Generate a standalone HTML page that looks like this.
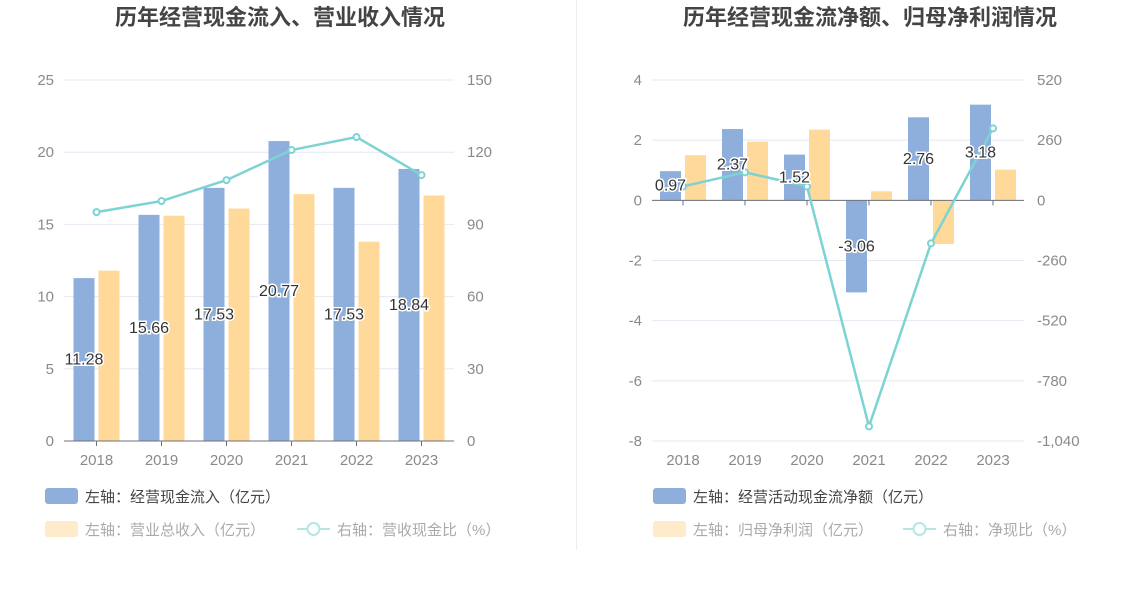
<!DOCTYPE html>
<html><head><meta charset="utf-8">
<style>
html,body{margin:0;padding:0;background:#fff;}
svg{display:block;font-family:"Liberation Sans","Noto Sans CJK SC",sans-serif;}
.lbl{font-size:16px;fill:#333;stroke:#fff;stroke-width:3px;paint-order:stroke;}
.ax{font-size:15px;fill:#8a8a8a;}
</style></head>
<body>
<svg id="c" width="1148" height="589" viewBox="0 0 1148 589">
<line x1="576.5" y1="0" x2="576.5" y2="550" stroke="#eeeeee"/>
<text x="280" y="25" text-anchor="middle" font-size="22" font-weight="bold" fill="#444">历年经营现金流入、营业收入情况</text>
<text x="870" y="25" text-anchor="middle" font-size="22" font-weight="bold" fill="#444">历年经营现金流净额、归母净利润情况</text>
<g id="L"></g><g id="R"></g>
<g>
<rect x="45" y="488" width="33" height="16" rx="3" fill="#8eaedb"/>
<text x="85" y="502" font-size="15" fill="#444">左轴：经营现金流入（亿元）</text>
<rect x="45" y="521" width="33" height="16" rx="3" fill="#fdebcb"/>
<text x="85" y="535" font-size="15" fill="#aaa">左轴：营业总收入（亿元）</text>
<line x1="297" y1="529" x2="330" y2="529" stroke="#b5e5e5" stroke-width="2"/>
<circle cx="313.5" cy="529" r="6" fill="#fff" stroke="#b5e5e5" stroke-width="2"/>
<text x="337" y="535" font-size="15" fill="#aaa">右轴：营收现金比（%）</text>
</g>
<g>
<rect x="653" y="488" width="33" height="16" rx="3" fill="#8eaedb"/>
<text x="693" y="502" font-size="15" fill="#444">左轴：经营活动现金流净额（亿元）</text>
<rect x="653" y="521" width="33" height="16" rx="3" fill="#fdebcb"/>
<text x="693" y="535" font-size="15" fill="#aaa">左轴：归母净利润（亿元）</text>
<line x1="903" y1="529" x2="936" y2="529" stroke="#b5e5e5" stroke-width="2"/>
<circle cx="919.5" cy="529" r="6" fill="#fff" stroke="#b5e5e5" stroke-width="2"/>
<text x="943" y="535" font-size="15" fill="#aaa">右轴：净现比（%）</text>
</g>
</svg>
<script>
const years = ["2018","2019","2020","2021","2022","2023"];
const inflow = [11.28,15.66,17.53,20.77,17.53,18.84];
const revenue = [11.8,15.6,16.1,17.1,13.8,17.0];
const cashRatio = [95.1,99.7,108.4,120.9,126.3,110.5];
const leftTicks = [0,5,10,15,20,25];
const leftRTicks = ["0","30","60","90","120","150"];
const netCash = [0.97,2.37,1.52,-3.06,2.76,3.18];
const netProfit = [1.5,1.95,2.35,0.3,-1.45,1.02];
const netRatio = [60,121,60,-977,-186,311];
const rightTicks = [-8,-6,-4,-2,0,2,4];
const rightRTicks = ["-1,040","-780","-520","-260","0","260","520"];

const NS="http://www.w3.org/2000/svg";
function mk(p,tag,a,txt){const e=document.createElementNS(NS,tag);for(const k in a)e.setAttribute(k,a[k]);if(txt!==undefined)e.textContent=txt;p.appendChild(e);return e;}

function draw(g,o){
  const x0=o.x0,x1=o.x1,yT=80,yB=441,n=years.length,step=(x1-x0)/n;
  const y=v=>yB-(v-o.min)/(o.max-o.min)*(yB-yT);
  const yr=v=>yB-(v-o.rmin)/(o.rmax-o.rmin)*(yB-yT);
  const cx=i=>x0+step*(i+0.5);
  o.ticks.forEach((t,i)=>{
    const ln=mk(g,'line',{x1:x0,x2:x1,y1:y(t),y2:y(t),stroke:'#e4e8f3'});
    
    
    const tl=mk(g,'text',{x:x0-10,y:y(t)+5,'text-anchor':'end',class:'ax'},String(t));
    
    
    const tr=mk(g,'text',{x:x1+13,y:y(t)+5,class:'ax'},o.rticks[i]);
    
    
  });
  const bw=21;
  years.forEach((yrs,i)=>{
    const c=cx(i);
    const b1=mk(g,'rect',{x:c-bw-2,y:Math.min(y(o.a[i]),y(0)),width:bw,height:Math.abs(y(o.a[i])-y(0)),fill:'#8eaedb'});
    
    
    const b2=mk(g,'rect',{x:c+2,y:Math.min(y(o.b[i]),y(0)),width:bw,height:Math.abs(y(o.b[i])-y(0)),fill:'#ffd999'});
    
    
    const xl=mk(g,'text',{x:c,y:465,'text-anchor':'middle',class:'ax'},yrs);
    
    
    const tk=mk(g,'line',{x1:c,x2:c,y1:y(0),y2:y(0)+5,stroke:'#6e7079'});
    
    
  });
  const ax=mk(g,'line',{x1:x0,x2:x1,y1:y(0),y2:y(0),stroke:'#6e7079'});
  
  
  const pts=o.r.map((v,i)=>cx(i)+','+yr(v)).join(' ');
  const pl=mk(g,'polyline',{points:pts,fill:'none',stroke:'#7dd3d3','stroke-width':2.5});
  
  
  o.r.forEach((v,i)=>{
    const p=mk(g,'circle',{cx:cx(i),cy:yr(v),r:3,fill:'#fff',stroke:'#7dd3d3','stroke-width':2});
    
    
  });
  o.a.forEach((v,i)=>{
    const t=mk(g,'text',{x:cx(i)-bw/2-2,y:(y(v)+y(0))/2+5,'text-anchor':'middle',class:'lbl'},v.toFixed(2));
    
    
  });
}
draw(document.getElementById('L'),{x0:64,x1:454,min:0,max:25,rmin:0,rmax:150,ticks:leftTicks,rticks:leftRTicks,a:inflow,b:revenue,r:cashRatio,an:'inflow',bn:'revenue',rn:'cash-ratio'});
draw(document.getElementById('R'),{x0:652,x1:1024,min:-8,max:4,rmin:-1040,rmax:520,ticks:rightTicks,rticks:rightRTicks,a:netCash,b:netProfit,r:netRatio,an:'net-cash',bn:'net-profit',rn:'net-ratio'});
</script>
</body></html>
